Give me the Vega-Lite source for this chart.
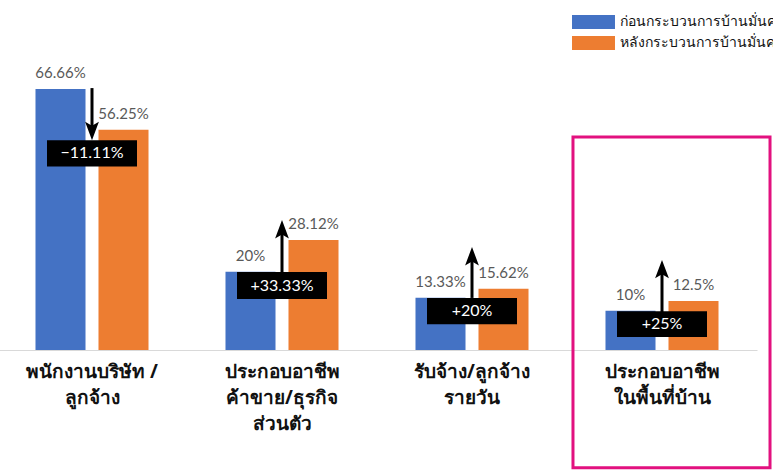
{
  "$schema": "https://vega.github.io/schema/vega-lite/v6.json",
  "width": 760,
  "height": 350,
  "autosize": "none",
  "padding": {"left": -3, "top": 0, "right": 16, "bottom": 120},
  "background": "white",
  "config": {"view": {"stroke": null}, "font": "Lato"},
  "datasets": {
    "bars": [
      {"cat": "พนักงานบริษัท /|ลูกจ้าง", "series": "ก่อนกระบวนการบ้านมั่นคง", "value": 66.66, "label": "66.66%"},
      {"cat": "พนักงานบริษัท /|ลูกจ้าง", "series": "หลังกระบวนการบ้านมั่นคง", "value": 56.25, "label": "56.25%"},
      {"cat": "ประกอบอาชีพ|ค้าขาย/ธุรกิจ|ส่วนตัว", "series": "ก่อนกระบวนการบ้านมั่นคง", "value": 20, "label": "20%"},
      {"cat": "ประกอบอาชีพ|ค้าขาย/ธุรกิจ|ส่วนตัว", "series": "หลังกระบวนการบ้านมั่นคง", "value": 28.12, "label": "28.12%"},
      {"cat": "รับจ้าง/ลูกจ้าง|รายวัน", "series": "ก่อนกระบวนการบ้านมั่นคง", "value": 13.33, "label": "13.33%"},
      {"cat": "รับจ้าง/ลูกจ้าง|รายวัน", "series": "หลังกระบวนการบ้านมั่นคง", "value": 15.62, "label": "15.62%"},
      {"cat": "ประกอบอาชีพ|ในพื้นที่บ้าน", "series": "ก่อนกระบวนการบ้านมั่นคง", "value": 10, "label": "10%"},
      {"cat": "ประกอบอาชีพ|ในพื้นที่บ้าน", "series": "หลังกระบวนการบ้านมั่นคง", "value": 12.5, "label": "12.5%"}
    ],
    "arrows": [
      {"cat": "พนักงานบริษัท /|ลูกจ้าง", "base": 66.9, "shaftEnd": 56.5, "tip": 53.6, "dir": "down"},
      {"cat": "ประกอบอาชีพ|ค้าขาย/ธุรกิจ|ส่วนตัว", "base": 19.9, "shaftEnd": 30.3, "tip": 33.2, "dir": "up"},
      {"cat": "รับจ้าง/ลูกจ้าง|รายวัน", "base": 13.3, "shaftEnd": 23.4, "tip": 26.3, "dir": "up"},
      {"cat": "ประกอบอาชีพ|ในพื้นที่บ้าน", "base": 9.7, "shaftEnd": 20.1, "tip": 23.0, "dir": "up"}
    ],
    "boxes": [
      {"cat": "พนักงานบริษัท /|ลูกจ้าง", "bottom": 46.9, "top": 53.6, "mid": 50.25, "text": "−11.11%"},
      {"cat": "ประกอบอาชีพ|ค้าขาย/ธุรกิจ|ส่วนตัว", "bottom": 13.0, "top": 19.9, "mid": 16.45, "text": "+33.33%"},
      {"cat": "รับจ้าง/ลูกจ้าง|รายวัน", "bottom": 6.6, "top": 13.3, "mid": 9.95, "text": "+20%"},
      {"cat": "ประกอบอาชีพ|ในพื้นที่บ้าน", "bottom": 3.3, "top": 9.9, "mid": 6.6, "text": "+25%"}
    ],
    "highlight": [
      {"cat": "ประกอบอาชีพ|ในพื้นที่บ้าน", "top": 54.4, "bottom": -30.1}
    ]
  },
  "encoding": {
    "x": {
      "field": "cat",
      "type": "nominal",
      "sort": ["พนักงานบริษัท /|ลูกจ้าง", "ประกอบอาชีพ|ค้าขาย/ธุรกิจ|ส่วนตัว", "รับจ้าง/ลูกจ้าง|รายวัน", "ประกอบอาชีพ|ในพื้นที่บ้าน"],
      "scale": {"paddingInner": 0, "paddingOuter": 0},
      "axis": {
        "title": null,
        "labelAngle": 0,
        "ticks": false,
        "domainColor": "#D9D9D9",
        "domainWidth": 1,
        "labelFontSize": 19,
        "labelFont": "Noto Sans",
        "labelFontWeight": "bold",
        "labelColor": "#111111",
        "labelPadding": 12,
        "labelLineHeight": 26,
        "labelLimit": 0,
        "labelExpr": "split(datum.label, '|')"
      }
    }
  },
  "layer": [
    {
      "data": {"name": "bars"},
      "mark": {"type": "bar"},
      "encoding": {
        "xOffset": {
          "field": "series",
          "type": "nominal",
          "sort": ["ก่อนกระบวนการบ้านมั่นคง", "หลังกระบวนการบ้านมั่นคง"],
          "scale": {"paddingInner": 0.206, "paddingOuter": 0.611}
        },
        "y": {"field": "value", "type": "quantitative", "scale": {"domain": [0, 89.4], "nice": false}, "axis": null},
        "color": {
          "field": "series",
          "type": "nominal",
          "scale": {"domain": ["ก่อนกระบวนการบ้านมั่นคง", "หลังกระบวนการบ้านมั่นคง"], "range": ["#4472C4", "#ED7D31"]},
          "legend": {
            "orient": "none",
            "legendX": 589.5,
            "legendY": 15,
            "title": null,
            "symbolType": "M-3.07,-1H3.07V1H-3.07Z",
            "symbolSize": 196,
            "symbolStrokeWidth": 0,
            "labelFontSize": 14,
            "labelFont": "Noto Sans",
            "labelColor": "#111111",
            "labelLimit": 0,
            "labelOffset": 19.5,
            "rowPadding": 7,
            "padding": 0
          }
        }
      }
    },
    {
      "data": {"name": "bars"},
      "mark": {"type": "text", "baseline": "alphabetic", "dy": -11, "fontSize": 15, "color": "#595959", "font": "Lato"},
      "encoding": {
        "xOffset": {
          "field": "series",
          "type": "nominal",
          "sort": ["ก่อนกระบวนการบ้านมั่นคง", "หลังกระบวนการบ้านมั่นคง"]
        },
        "y": {"field": "value", "type": "quantitative", "scale": {"domain": [0, 89.4], "nice": false}, "axis": null},
        "text": {"field": "label"}
      }
    },
    {
      "data": {"name": "arrows"},
      "mark": {"type": "rule", "strokeWidth": 3, "color": "black"},
      "encoding": {
        "y": {"field": "base", "type": "quantitative", "scale": {"domain": [0, 89.4], "nice": false}, "axis": null},
        "y2": {"field": "shaftEnd"}
      }
    },
    {
      "data": {"name": "arrows"},
      "mark": {"type": "point", "filled": true, "size": 529, "color": "black", "opacity": 1, "strokeWidth": 0},
      "encoding": {
        "y": {"field": "tip", "type": "quantitative", "scale": {"domain": [0, 89.4], "nice": false}, "axis": null},
        "shape": {
          "field": "dir",
          "type": "nominal",
          "scale": {"domain": ["up", "down"], "range": ["M0,0L0.6,1.6L0,1.25L-0.6,1.6Z", "M0,0L0.6,-1.6L0,-1.25L-0.6,-1.6Z"]},
          "legend": null
        }
      }
    },
    {
      "data": {"name": "boxes"},
      "mark": {"type": "bar", "width": 90, "color": "black"},
      "encoding": {
        "y": {"field": "bottom", "type": "quantitative", "scale": {"domain": [0, 89.4], "nice": false}, "axis": null},
        "y2": {"field": "top"}
      }
    },
    {
      "data": {"name": "boxes"},
      "mark": {"type": "text", "baseline": "middle", "fontSize": 16, "color": "white", "font": "Lato"},
      "encoding": {
        "y": {"field": "mid", "type": "quantitative", "scale": {"domain": [0, 89.4], "nice": false}, "axis": null},
        "text": {"field": "text"}
      }
    },
    {
      "data": {"name": "highlight"},
      "mark": {"type": "bar", "width": {"band": 1.037}, "fillOpacity": 0, "stroke": "#E2117F", "strokeWidth": 3, "xOffset": 9.5},
      "encoding": {
        "y": {"field": "top", "type": "quantitative", "scale": {"domain": [0, 89.4], "nice": false}, "axis": null},
        "y2": {"field": "bottom"}
      }
    }
  ]
}
